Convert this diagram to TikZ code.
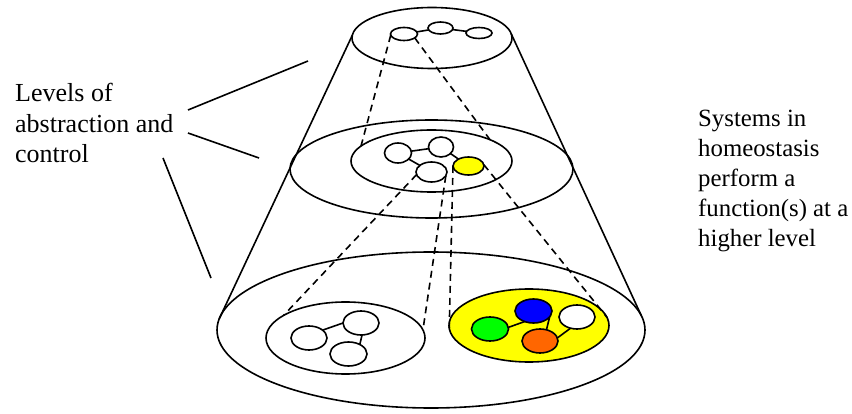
\documentclass[tikz,border=0pt]{standalone}
\usepackage{fontspec}
\setmainfont{Liberation Serif}
\newfontfamily\tnr{Liberation Serif}
\usetikzlibrary{shapes.geometric}
\definecolor{cyel}{RGB}{255,255,0}
\definecolor{cblue}{RGB}{0,0,255}
\definecolor{cgreen}{RGB}{0,255,0}
\definecolor{corange}{RGB}{255,102,0}
\begin{document}
\begin{tikzpicture}[x=1pt,y=-1pt,
  e/.style 2 args={draw, ellipse, inner sep=0pt, outer sep=0pt, line width=1.6pt, minimum width=#1, minimum height=#2},
  ln/.style={line width=1.6pt},
  dsh/.style={line width=1.6pt, dash pattern=on 7pt off 5pt},
  txt/.style={align=left, inner sep=0pt, anchor=north west, font=\tnr\fontsize{26}{30.5}\selectfont},
  txtr/.style={txt, font=\tnr\fontsize{24.8}{30}\selectfont}]
\useasboundingbox (0,0) rectangle (852,414);
% levels
\node[e={428}{156}] (B) at (431,330) {};
\node[e={283}{98}] (M) at (431.5,169) {};
\node[e={161}{62}] (MI) at (431.5,161) {};
\node[e={160}{61}] (T) at (432,38) {};
\node[e={159}{72}] (BL) at (345.5,338) {};
\node[e={160}{73}, fill=cyel] (BR) at (529,325.5) {};
% top circles
\node[e={27}{13}] (t1) at (404,34) {};
\node[e={25}{12}] (t2) at (440.5,28) {};
\node[e={26}{11}] (t3) at (479,33) {};
% middle circles
\node[e={27}{20}] (c1) at (398,153) {};
\node[e={25}{20}] (c2) at (441,147) {};
\node[e={31}{20}] (c3) at (431.5,172) {};
\node[e={31}{18}, fill=cyel] (yl) at (468.5,166) {};
% bottom left circles
\node[e={36}{24}] (a) at (309,338) {};
\node[e={36}{24}] (b) at (361,323) {};
\node[e={37}{24}] (c) at (348.5,354) {};
% bottom right circles
\node[e={37}{24}, fill=cgreen] (g) at (490,329) {};
\node[e={37}{24}, fill=cblue] (bl) at (533.5,311) {};
\node[e={36}{24}, fill=white] (w) at (577,317) {};
\node[e={36}{24}, fill=corange] (o) at (540,341) {};
% cone sides
\draw[ln] (T.178) -- (B.177);
\draw[ln] (T.3) -- (B.4);
% solid links
\draw[ln] (t1) -- (t2);
\draw[ln] (t2) -- (t3);
\draw[ln] (c1) -- (c2);
\draw[ln] (c1) -- (c3);
\draw[ln] (c2) -- (yl);
\draw[ln] (a.30) -- (b.180);
\draw[ln] (b.-85) -- (c.40);
\draw[ln] (g.5) -- (bl.230);
\draw[ln] (bl.-20) -- (o.60);
\draw[ln] (w.240) -- (o.10);
% dashed projections
\draw[dsh] (t1.185) -- (MI.168);
\draw[dsh] (t1.-20) -- (MI.20);
\draw[dsh] (c3.190) -- (BL.160);
\draw[dsh] (c3.-15) -- (BL.6);
\draw[dsh] (yl.180) -- (BR.182);
\draw[dsh] (yl.5) -- (BR.6);
% labels
\node[txt] (L) at (15,83) {Levels of\\abstraction and\\control};
\node[txtr] (R) at (698,110) {Systems in\\homeostasis\\perform a\\function(s) at a\\higher level};
% pointer lines
\coordinate (p1s) at (188,110);
\coordinate (p1e) at (308,61);
\coordinate (p2s) at (188,133);
\coordinate (p2e) at (259,158);
\coordinate (p3s) at (163,158);
\coordinate (p3e) at (211,278);
\draw[ln] (p1s) -- (p1e);
\draw[ln] (p2s) -- (p2e);
\draw[ln] (p3s) -- (p3e);
\end{tikzpicture}
\end{document}
